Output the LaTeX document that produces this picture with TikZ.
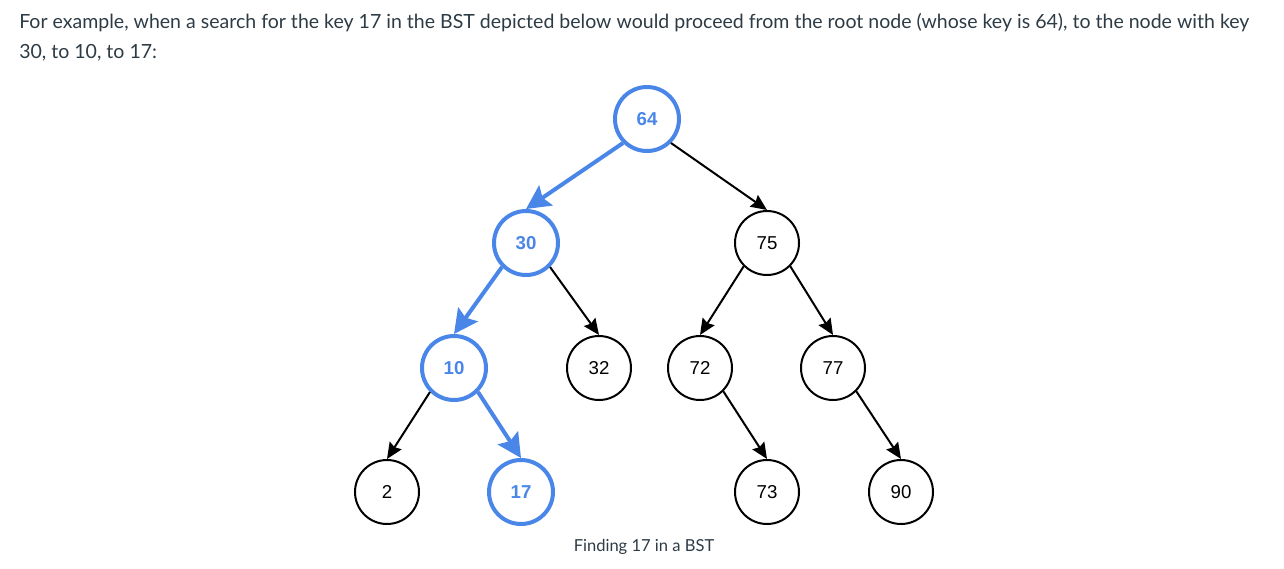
\documentclass[tikz,border=0pt]{standalone}
\usepackage{fontspec}
\setmainfont{Lato}
\newfontfamily\arialfont{Liberation Sans}
\usetikzlibrary{arrows.meta}
\definecolor{pathblue}{RGB}{74,134,232}
\definecolor{textgray}{RGB}{45,59,69}
\begin{document}
\begin{tikzpicture}[x=0.75pt, y=-0.75pt, line join=round,
		key/.style={circle, draw=black, line width=1.5pt, minimum size=48pt, inner sep=0pt,
			font=\arialfont\fontsize{14}{16}\selectfont},
		found/.style={key, draw=pathblue, line width=3pt, text=pathblue,
			font=\arialfont\bfseries\fontsize{14}{16}\selectfont},
		link/.style={-{Stealth[length=12pt,width=10.5pt,inset=1.5pt]}, line width=1.5pt},
		hotlink/.style={-{Stealth[length=18pt,width=18pt,inset=3pt]}, line width=3pt, draw=pathblue},
		prose/.style={anchor=base west, inner sep=0pt, text=textgray, font=\fontsize{14.65}{17}\selectfont}]
	\useasboundingbox (0,0) rectangle (1284,568);
	% the text round the picture
	\node[prose] (line1) at (19,28) {For example, when a search for the key 17 in the BST depicted below would proceed from the root node (whose key is 64), to the node with key};
	\node[prose] (line2) at (19,58) {30, to 10, to 17:};
	\node[prose, anchor=base, font=\fontsize{12.4}{15}\selectfont] (caption) at (644,551) {Finding 17 in a BST};
	% keys of the tree
	\node[found] (n64) at (647,119) {64};
	\node[found] (n30) at (526,243) {30};
	\node[key] (n75) at (767,243) {75};
	\node[found] (n10) at (454,368) {10};
	\node[key] (n32) at (599,368) {32};
	\node[key] (n72) at (700,368) {72};
	\node[key] (n77) at (833,368) {77};
	\node[key] (n2) at (387,492) {2};
	\node[found] (n17) at (521,492) {17};
	\node[key] (n73) at (767,492) {73};
	\node[key] (n90) at (901,492) {90};
	% links
	\draw[hotlink] (n64.south west) -- (n30.north);
	\draw[link] (n64.south east) -- (n75.north);
	\draw[hotlink] (n30.south west) -- (n10.north);
	\draw[link] (n30.south east) -- (n32.north);
	\draw[link] (n75.south west) -- (n72.north);
	\draw[link] (n75.south east) -- (n77.north);
	\draw[link] (n10.south west) -- (n2.north);
	\draw[hotlink] (n10.south east) -- (n17.north);
	\draw[link] (n72.south east) -- (n73.north);
	\draw[link] (n77.south east) -- (n90.north);
\end{tikzpicture}
\end{document}
